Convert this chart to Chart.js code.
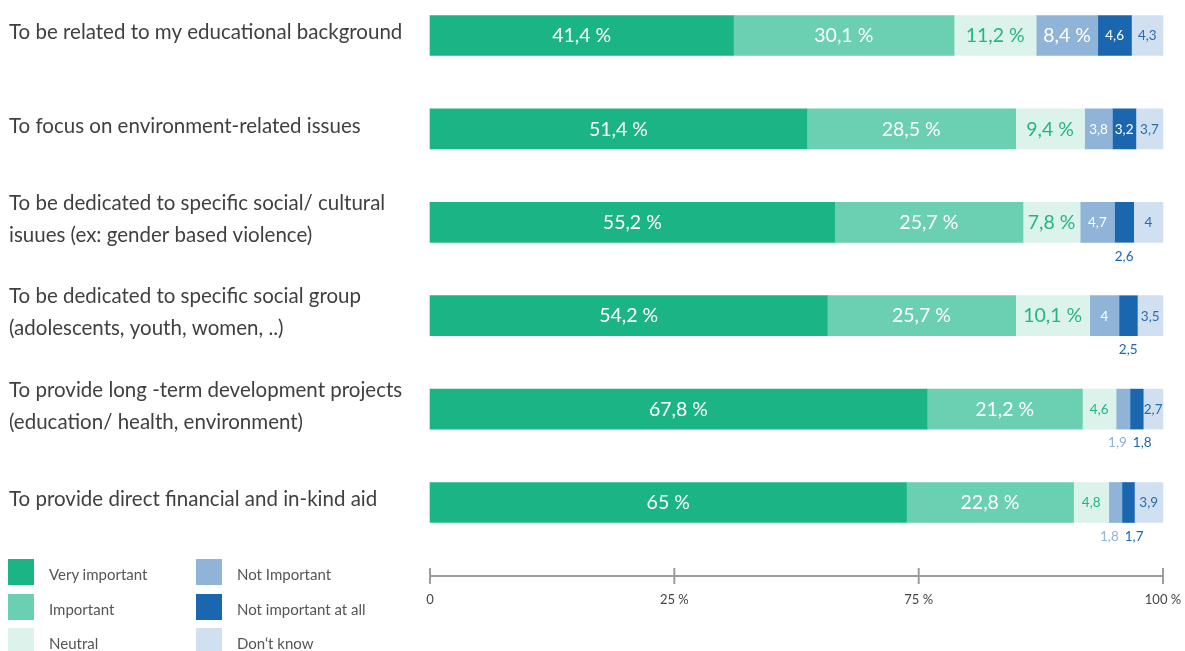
<!DOCTYPE html>
<html>
<head>
<meta charset="utf-8">
<script src="https://cdn.jsdelivr.net/npm/chart.js@4"></script>
<style>
  body { margin: 0; background: #fff; font-family: Lato, sans-serif; }
  #wrap { position: relative; width: 1185px; height: 651px; overflow: hidden; }
  #legend {
    position: absolute; left: 8px; top: 559px;
    display: grid; grid-template-columns: 188px 200px;
    grid-template-rows: repeat(3, 34.5px); grid-auto-flow: column;
  }
  .item { display: flex; align-items: flex-start; font-size: 15px; color: #555; }
  .swatch { width: 26px; height: 26px; margin-right: 15px; flex: none; }
  .item span { padding-top: 6px; }
</style>
</head>
<body>
<div id="wrap">
  <canvas id="chart" width="1185" height="651"></canvas>
  <div id="legend"></div>
</div>
<script>
// categories (two-line ones as arrays)
const categories = [
  'To be related to my educational background',
  'To focus on environment-related issues',
  ['To be dedicated to specific social/ cultural', 'isuues (ex: gender based violence)'],
  ['To be dedicated to specific social group', '(adolescents, youth, women, ..)'],
  ['To provide long -term development projects', '(education/ health, environment)'],
  'To provide direct financial and in-kind aid'
];

const seriesNames = ['Very important', 'Important', 'Neutral', 'Not Important', 'Not important at all', 'Don‘t know'];
const seriesColors = ['#1bb585', '#6ad0b1', '#dcf3eb', '#8fb4d7', '#1a67b0', '#d0e0f0'];
const labelColors = ['#ffffff', '#ffffff', '#25b486', '#ffffff', '#ffffff', '#2a6cb0'];

const veryImportant = [41.4, 51.4, 55.2, 54.2, 67.8, 65];
const important     = [30.1, 28.5, 25.7, 25.7, 21.2, 22.8];
const neutral       = [11.2, 9.4, 7.8, 10.1, 4.6, 4.8];
const notImportant  = [8.4, 3.8, 4.7, 4, 1.9, 1.8];
const notAtAll      = [4.6, 3.2, 2.6, 2.5, 1.8, 1.7];
const dontKnow      = [4.3, 3.7, 4, 3.5, 2.7, 3.9];

const tickValues = [0, 33.33, 66.67, 100];
const tickLabels = ['0', '25 %', '75 %', '100 %'];

const seriesValues = [veryImportant, important, neutral, notImportant, notAtAll, dontKnow];
const AXIS_GAP = 73.5;

// values inside the segments, or under the bar when the segment is too thin
const valueLabels = {
  id: 'valueLabels',
  afterDatasetsDraw(chart) {
    const ctx = chart.ctx;
    const sets = chart.data.datasets;
    ctx.save();
    ctx.textAlign = 'center';
    ctx.textBaseline = 'middle';
    categories.forEach((c, row) => {
      const below = [];
      let ref;
      sets.forEach((ds, di) => {
        const bar = chart.getDatasetMeta(di).data[row];
        ref = bar;
        const v = ds.data[row];
        const big = v >= 7;
        const text = String(v).replace('.', ',') + (big ? ' %' : '');
        ctx.font = (big ? '19.5px' : '13.5px') + ' Lato';
        const tw = ctx.measureText(text).width;
        const w = bar.x - bar.base;
        const cx = (bar.x + bar.base) / 2;
        if (w < tw + 3 && di < sets.length - 1) {
          below.push({ text, x: cx, w: tw, color: ds.backgroundColor });
        } else {
          ctx.fillStyle = labelColors[di];
          ctx.fillText(text, cx, bar.y + 0.5);
        }
      });
      for (let i = 0; i < below.length - 1; i++) {
        const a = below[i], b = below[i + 1];
        const gap = (a.w + b.w) / 2 + 6;
        if (b.x - a.x < gap) {
          const mid = (a.x + b.x) / 2;
          a.x = mid - gap / 2;
          b.x = mid + gap / 2;
        }
      }
      ctx.font = '13.5px Lato';
      below.forEach(l => {
        ctx.fillStyle = l.color;
        ctx.fillText(l.text, l.x, ref.y + ref.height / 2 + 14);
      });
    });
    ctx.restore();
  }
};

// axis line sits below the bars, ticks cross it
const axisLine = {
  id: 'axisLine',
  afterDraw(chart) {
    const sx = chart.scales.x;
    const ctx = chart.ctx;
    const y = chart.chartArea.bottom + AXIS_GAP;
    ctx.save();
    ctx.strokeStyle = '#9c9c9c';
    ctx.lineWidth = 2;
    ctx.beginPath();
    ctx.moveTo(sx.left, y);
    ctx.lineTo(sx.right, y);
    sx.ticks.forEach(t => {
      const px = sx.getPixelForValue(t.value);
      ctx.moveTo(px, y - 8);
      ctx.lineTo(px, y + 8);
    });
    ctx.stroke();
    ctx.restore();
  }
};

new Chart(document.getElementById('chart'), {
  type: 'bar',
  data: {
    labels: categories,
    datasets: seriesValues.map((vals, i) => ({
      label: seriesNames[i],
      data: vals,
      backgroundColor: seriesColors[i],
      borderWidth: 0,
      barThickness: 40,
      clip: false
    }))
  },
  options: {
    indexAxis: 'y',
    responsive: false,
    animation: false,
    devicePixelRatio: 1,
    layout: { padding: { left: 9, top: 35.5, right: 22, bottom: 0 } },
    plugins: { legend: { display: false }, tooltip: { enabled: false } },
    scales: {
      x: {
        stacked: true,
        min: 0,
        max: 100,
        afterBuildTicks(scale) { scale.ticks = tickValues.map(v => ({ value: v })); },
        afterFit(scale) {
          scale.height = 148.5;
          // the big label padding is only meant to push labels down
          scale.paddingLeft = 0;
          scale.paddingRight = 0;
        },
        grid: { display: false, drawTicks: false },
        border: { display: false },
        ticks: {
          padding: 90,
          color: '#444',
          font: { family: 'Lato', size: 13 },
          maxRotation: 0,
          autoSkip: false,
          callback: (v, i) => tickLabels[i]
        }
      },
      y: {
        stacked: true,
        offset: false,
        afterFit(scale) { scale.width = 421; },
        grid: { display: false },
        border: { display: false },
        ticks: {
          crossAlign: 'far',
          color: '#404040',
          labelOffset: -3,
          autoSkip: false,
          font: { family: 'Lato', size: 20.5, lineHeight: '32px' }
        }
      }
    }
  },
  plugins: [valueLabels, axisLine]
});

// legend, two columns of three
const legend = document.getElementById('legend');
seriesNames.forEach((name, i) => {
  const item = document.createElement('div');
  item.className = 'item';
  item.innerHTML = `<div class="swatch" style="background:${seriesColors[i]}"></div><span>${name}</span>`;
  legend.appendChild(item);
});
</script>
</body>
</html>
